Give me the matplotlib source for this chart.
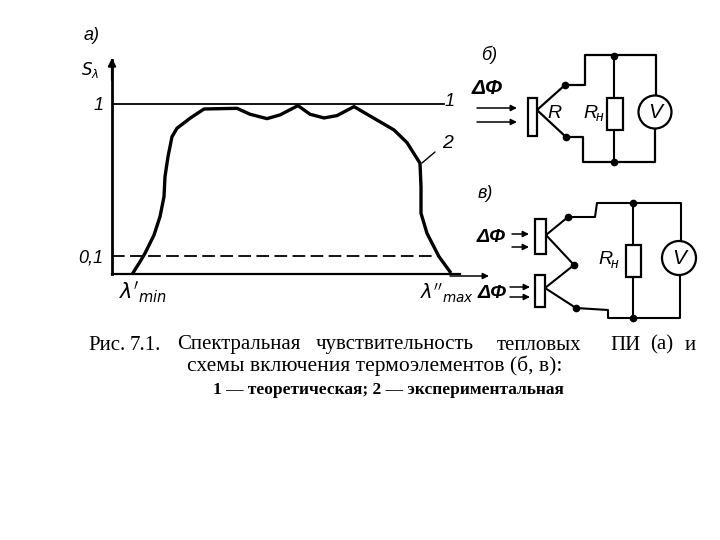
import matplotlib
matplotlib.use('Agg')
import matplotlib.pyplot as plt
from matplotlib.patches import Circle, Rectangle

# curve 2 (x in arbitrary wavelength units)
wavelength = [21, 28, 33, 42, 48, 52, 53, 56, 60, 65, 78, 92, 108, 125, 138, 155, 168, 186,
              198, 212, 225, 242, 262, 282, 295, 308, 309, 309, 315, 327, 338]
s_exp = [0.0, 0.066, 0.116, 0.224, 0.333, 0.451, 0.570, 0.688, 0.806, 0.856, 0.915, 0.970, 0.972, 0.974,
         0.939, 0.913, 0.935, 0.990, 0.939, 0.917, 0.931, 0.984, 0.915, 0.846, 0.771, 0.649, 0.510, 0.353,
         0.234, 0.096, 0.007]
line_x = [0, 332]
s_theory = [1, 1]
level_x = [0, 327]
s_level = [0.1, 0.1]
y_ticks = [0.1, 1]
y_labels = ['0,1', '1']

caption_1 = ['Рис.', '7.1.', 'Спектральная', 'чувствительность', 'тепловых', 'ПИ', '(а)', 'и']
caption_1_x = [88, 130, 177, 316, 497, 610, 650, 685]
caption_2 = 'схемы включения термоэлементов (б, в):'
caption_3 = '1 — теоретическая; 2 — экспериментальная'

plt.rcParams['font.family'] = ['Liberation Sans', 'DejaVu Sans']
fig = plt.figure(figsize=(7.2, 5.4), dpi=100)

ax = fig.add_axes([112 / 720, 266 / 540, 348 / 720, 214 / 540])
ax.plot(wavelength, s_exp, color='k', lw=2.4, solid_joinstyle='round')
ax.plot(line_x, s_theory, color='k', lw=1.3)
ax.plot(level_x, s_level, color='k', lw=1.3, dashes=(7, 3))
ax.set_xlim(0, 348)
ax.set_ylim(-0.0065, 1.26)
ax.spines['top'].set_visible(False)
ax.spines['right'].set_visible(False)
ax.spines['left'].set_linewidth(2)
ax.spines['bottom'].set_linewidth(1.6)
ax.set_xticks([])
ax.set_yticks(y_ticks, y_labels, style='italic', fontsize=13)
ax.tick_params(axis='y', length=0, pad=6)

# overlay in pixels for labels and the two circuits
ov = fig.add_axes([0, 0, 1, 1])
ov.set_xlim(0, 720)
ov.set_ylim(540, 0)
ov.axis('off')
ov.patch.set_alpha(0)


def label(x, y, s, size=11, **kw):
    ov.text(x, y, s, fontsize=size, style='italic', ha='center', va='center', **kw)


def wire(xs, ys, lw=1.4):
    ov.plot(xs, ys, color='k', lw=lw, solid_capstyle='round')


def dot(x, y):
    ov.plot([x], [y], 'o', color='k', ms=4.5)


def arrow(x0, x1, y):
    ov.annotate('', xy=(x1, y), xytext=(x0, y),
                arrowprops=dict(arrowstyle='-|>', color='k', lw=1.1, mutation_scale=9, shrinkA=0, shrinkB=0))


def box(x0, y0, x1, y1):
    ov.add_patch(Rectangle((x0, y0), x1 - x0, y1 - y0, fc='white', ec='k', lw=1.6, zorder=3))


def meter(x, y, r):
    ov.add_patch(Circle((x, y), r, fc='white', ec='k', lw=1.6, zorder=3))
    label(x, y, 'V', 15, zorder=4)


def load_label(x, y):
    label(x, y, 'R', 14)
    label(x + 10, y + 4, 'н', 10)


# y axis arrow
ov.annotate('', xy=(112, 58), xytext=(112, 80),
            arrowprops=dict(arrowstyle='-|>', color='k', lw=1.6, mutation_scale=11, shrinkA=0, shrinkB=0))
label(92, 35, 'а)', 13)
label(90, 70, r'$S_{\lambda}$', 12)
label(450, 102, '1', 13)
label(448, 143, '2', 14)
wire([422, 435], [163, 152], 1)
label(143, 292, r"$\lambda'_{min}$", 15)
label(447, 293, r"$\lambda''_{max}$", 14)

# circuit b
label(489, 55, 'б)', 13)
label(487, 88, 'ΔΦ', 15, fontweight='bold')
arrow(477, 517, 108)
arrow(477, 517, 122)
box(528, 98, 537, 136)
wire([537, 565, 585, 585, 656, 656], [110, 85, 85, 55, 55, 96], 1.6)
wire([537, 566, 583, 583, 655, 655], [110, 137, 137, 162, 162, 128], 1.6)
wire([614, 614], [56, 162], 1.5)
box(607, 98, 623, 130)
meter(655, 112, 16.5)
dot(565, 85)
dot(566, 137)
dot(614, 56)
dot(614, 162)
label(554, 113, 'R', 14)
load_label(590, 113)

# circuit v
label(485, 193, 'в)', 13)
label(491, 237, 'ΔΦ', 14, fontweight='bold')
label(492, 293, 'ΔΦ', 14, fontweight='bold')
arrow(512, 529, 234)
arrow(512, 529, 247)
arrow(510, 530, 287)
arrow(510, 530, 297)
arrow(450, 489, 276)
box(535, 219, 546, 254)
box(535, 275, 545, 307)
wire([546, 568, 595, 597, 681, 681], [235, 217, 217, 203, 203, 241], 1.5)
wire([546, 574, 545], [235, 265, 288], 1.5)
wire([545, 576, 608, 608, 680, 680], [288, 308, 310, 318, 318, 275], 1.5)
wire([633, 633], [203, 318], 1.5)
box(626, 245, 641, 277)
meter(679, 258, 17)
dot(568, 217)
dot(574, 265)
dot(576, 308)
dot(633, 203)
dot(633, 318)
load_label(605, 260)

# caption
for word, x in zip(caption_1, caption_1_x):
    ov.text(x, 345, word, fontsize=15, family='Liberation Serif', va='center', ha='left')
ov.text(375, 366, caption_2, fontsize=15.5, family='Liberation Serif', va='center', ha='center')
ov.text(388, 390, caption_3, fontsize=12.5, family='Liberation Serif', fontweight='bold', va='center', ha='center')

fig.savefig('out.png', dpi=100)
